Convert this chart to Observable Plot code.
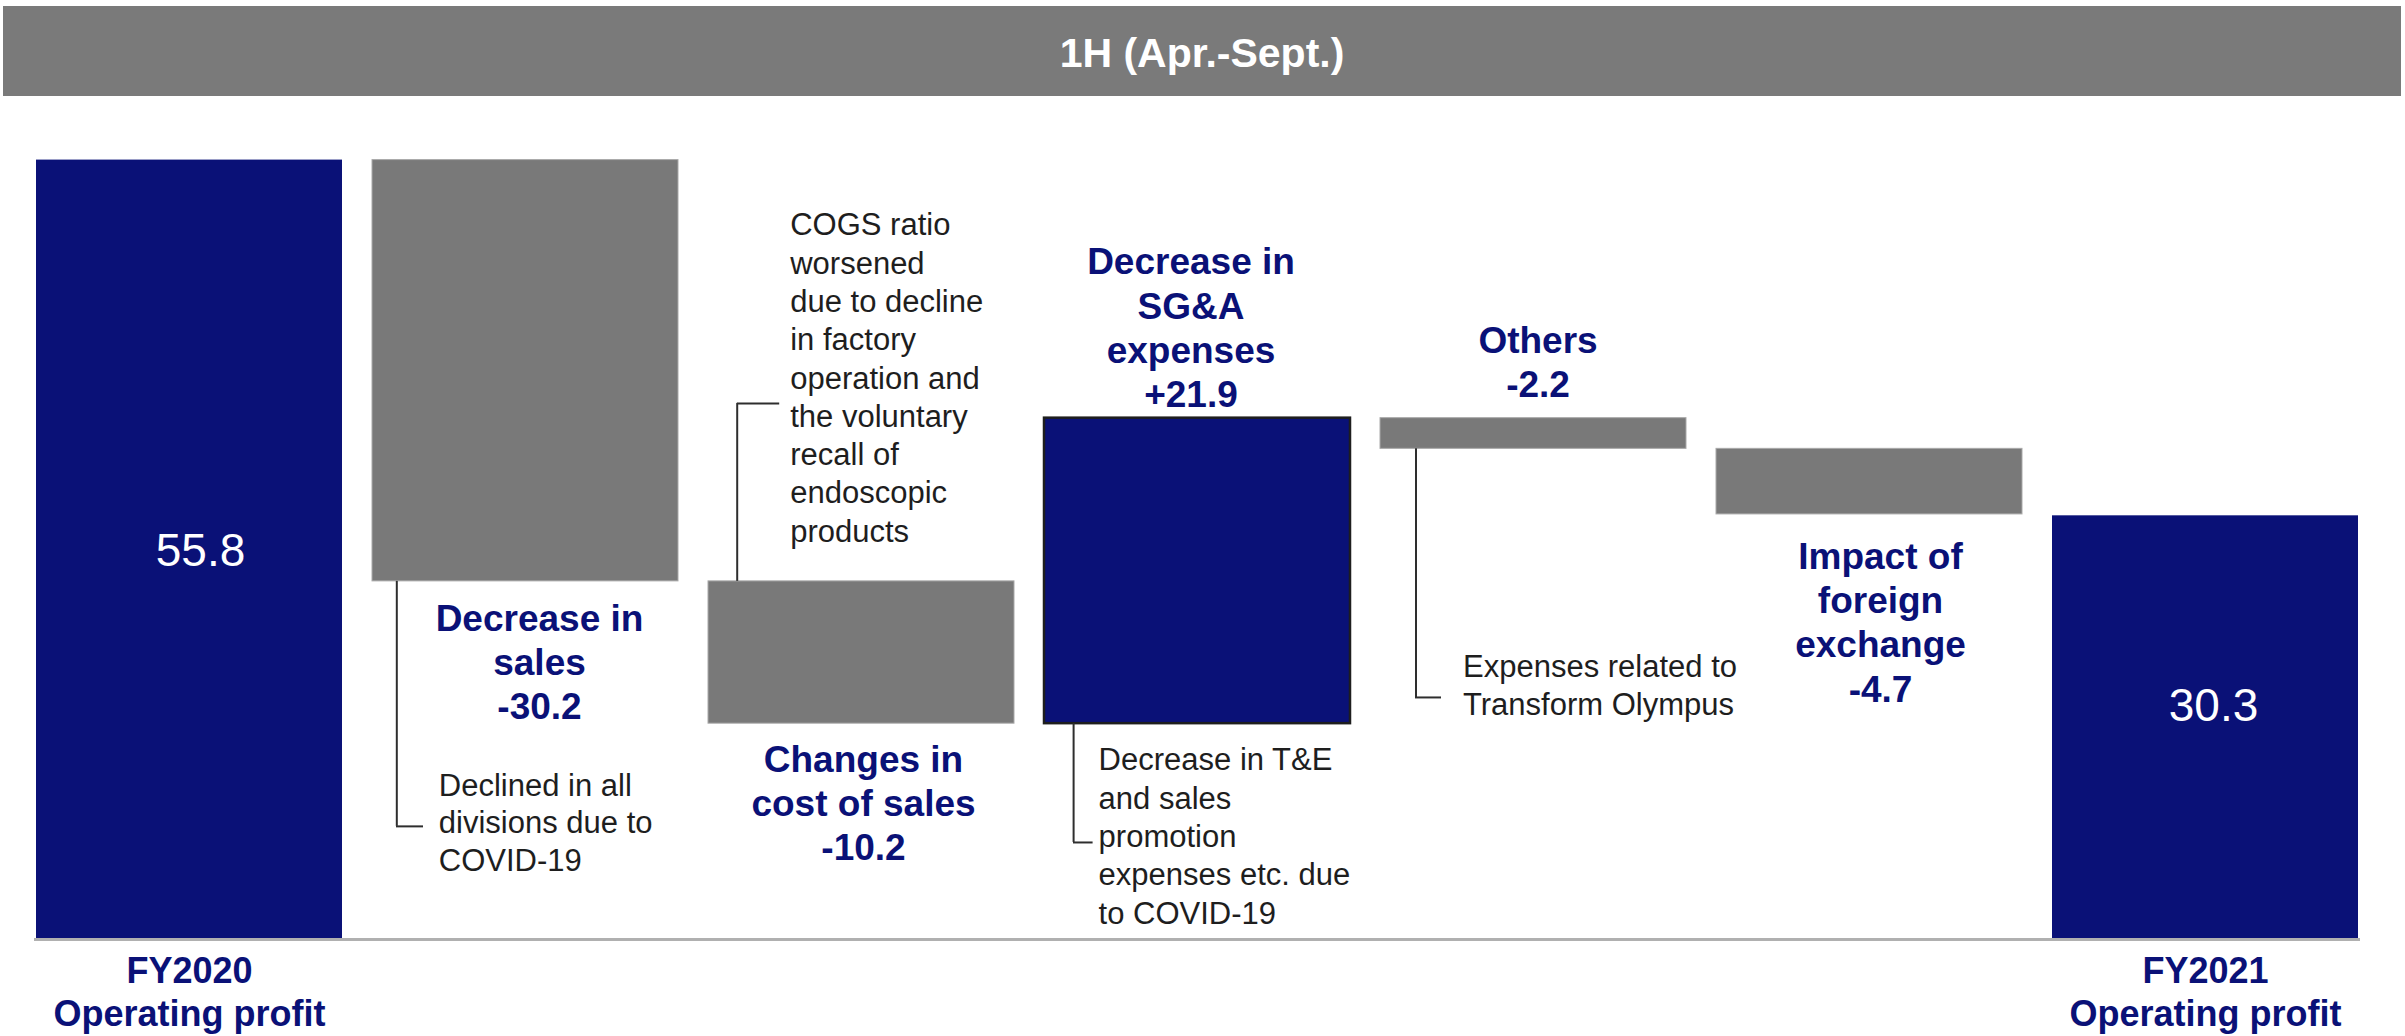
<!DOCTYPE html>
<html>
<head>
<meta charset="utf-8">
<script src="https://cdn.jsdelivr.net/npm/d3@7"></script>
<script src="https://cdn.jsdelivr.net/npm/@observablehq/plot@0.6"></script>
<style>
  html, body { margin: 0; padding: 0; background: #ffffff; width: 2405px; height: 1036px; overflow: hidden;
    font-family: "Liberation Sans", Arial, Helvetica, sans-serif; }
  #title { margin: 6px 4px 0 3px; height: 90px; background: #7a7a7a; color: #ffffff; font-weight: bold;
    font-size: 41px; line-height: 95px; text-align: center; overflow: hidden; }
  #chart svg { display: block; }
</style>
</head>
<body>
<div id="title">1H (Apr.-Sept.)</div>
<div id="chart"></div>
<script>
// ---- data ----
const categories = ["FY2020", "Sales", "CostOfSales", "SGA", "Others", "FX", "FY2021"];
const values = [55.8, -30.2, -10.2, 21.9, -2.2, -4.7, 30.3];
const kinds = ["total", "delta", "delta", "delta", "delta", "delta", "total"];
const stepLabels = ["", "Decrease in\nsales", "Changes in\ncost of sales", "Decrease in\nSG&A\nexpenses", "Others", "Impact of\nforeign\nexchange", ""];
const axisLabels = ["FY2020\nOperating profit", "", "", "", "", "", "FY2021\nOperating profit"];
const notes = [
  "",
  "Declined in all\ndivisions due to\nCOVID-19",
  "COGS ratio\nworsened\ndue to decline\nin factory\noperation and\nthe voluntary\nrecall of\nendoscopic\nproducts",
  "Decrease in T&E\nand sales\npromotion\nexpenses etc. due\nto COVID-19",
  "Expenses related to\nTransform Olympus",
  "",
  ""
];

// ---- waterfall table ----
let run = 0;
const rows = categories.map((c, i) => {
  const v = values[i];
  let y1, y2;
  if (kinds[i] === "total") { y1 = 0; y2 = v; }
  else { y1 = run; y2 = run + v; }
  run = y2;
  return {cat: c, value: v, kind: kinds[i], y1, y2, lo: Math.min(y1, y2), hi: Math.max(y1, y2),
          label: stepLabels[i], note: notes[i]};
});
const axisMap = new Map(categories.map((c, i) => [c, axisLabels[i]]));
const fmt = v => (v > 0 ? "+" : "") + v.toFixed(1);
const byCat = c => rows.filter(r => r.cat === c);

const NAVY = "#0a1177", GRAY = "#797979", NOTE = "#1e1e1e", LINE = "#2e2e2e";

const labelOpts = {x: "cat", text: d => d.label + "\n" + fmt(d.value), fill: NAVY, fontSize: 37, fontWeight: "bold", lineHeight: 1.2};
const noteOpts = {x: "cat", text: "note", fill: NOTE, fontSize: 31, textAnchor: "start"};
const lineOpts = {stroke: LINE, strokeWidth: 2};

const chart = Plot.plot({
  width: 2405,
  height: 940,
  marginTop: 5,
  marginBottom: 98,
  marginLeft: 4,
  marginRight: 15,
  style: {fontFamily: "'Liberation Sans', Arial, Helvetica, sans-serif", background: "#ffffff", overflow: "visible"},
  x: {type: "band", domain: categories, padding: 0.088, label: null},
  y: {domain: [0, 60], axis: null, label: null},
  marks: [
    // bars
    Plot.barY(rows.filter(d => d.kind === "total"), {x: "cat", y1: "y1", y2: "y2", fill: NAVY}),
    Plot.barY(rows.filter(d => d.kind === "delta" && d.value < 0), {x: "cat", y1: "y1", y2: "y2", fill: GRAY, stroke: "#a9a9a9", strokeWidth: 1}),
    Plot.barY(rows.filter(d => d.kind === "delta" && d.value > 0), {x: "cat", y1: "y1", y2: "y2", fill: NAVY, stroke: "#1e1e1e", strokeWidth: 2.5}),
    // baseline
    Plot.ruleY([0], {stroke: "#b0b0b0", strokeWidth: 3, insetLeft: 30, insetRight: 30, dy: 1}),
    // x axis labels (first and last)
    Plot.axisX({tickSize: 0, tickPadding: 14, tickFormat: d => axisMap.get(d), fontSize: 36, fontWeight: "bold",
                fill: NAVY, lineHeight: 1.2, label: null}),
    // totals values
    Plot.text(byCat("FY2020"), {x: "cat", y: d => d.value / 2, text: d => d.value.toFixed(1), fill: "#ffffff", fontSize: 46, dx: 11, dy: 1.5}),
    Plot.text(byCat("FY2021"), {x: "cat", y: d => d.value / 2, text: d => d.value.toFixed(1), fill: "#ffffff", fontSize: 46, dx: 8, dy: -21}),
    // step labels
    Plot.text(byCat("Sales"), {...labelOpts, y: "lo", lineAnchor: "top", dx: 14, dy: 17.6}),
    Plot.text(byCat("CostOfSales"), {...labelOpts, y: "lo", lineAnchor: "top", dx: 2, dy: 16.3}),
    Plot.text(byCat("SGA"), {...labelOpts, y: "hi", lineAnchor: "bottom", dx: -6.5, dy: -10.7}),
    Plot.text(byCat("Others"), {...labelOpts, y: "hi", lineAnchor: "bottom", dx: 4.5, dy: -20.7}),
    Plot.text(byCat("FX"), {...labelOpts, y: "lo", lineAnchor: "top", dx: 11, dy: 22.6}),
    // annotation connectors
    Plot.ruleX(byCat("Sales"), {x: "cat", y1: "lo", y2: "lo", dx: -128.7, insetBottom: -245, ...lineOpts}),
    Plot.ruleY(byCat("Sales"), {x1: "cat", x2: "cat", y: "lo", dy: 245, insetLeft: 24, insetRight: 255, ...lineOpts}),
    Plot.ruleX(byCat("CostOfSales"), {x: "cat", y1: "hi", y2: "hi", dx: -124.3, insetTop: -178, ...lineOpts}),
    Plot.ruleY(byCat("CostOfSales"), {x1: "cat", x2: "cat", y: "hi", dy: -178, insetLeft: 29, insetRight: 234.8, ...lineOpts}),
    Plot.ruleX(byCat("SGA"), {x: "cat", y1: "lo", y2: "lo", dx: -123.9, insetBottom: -118.8, ...lineOpts}),
    Plot.ruleY(byCat("SGA"), {x1: "cat", x2: "cat", y: "lo", dy: 118.8, insetLeft: 29, insetRight: 257.4, ...lineOpts}),
    Plot.ruleX(byCat("Others"), {x: "cat", y1: "lo", y2: "lo", dx: -117.5, insetBottom: -248.6, ...lineOpts}),
    Plot.ruleY(byCat("Others"), {x1: "cat", x2: "cat", y: "lo", dy: 248.6, insetLeft: 35, insetRight: 245, ...lineOpts}),
    // annotation notes
    Plot.text(byCat("Sales"), {...noteOpts, y: "lo", lineAnchor: "top", lineHeight: 1.21, dx: -86.7, dy: 187.5}),
    Plot.text(byCat("CostOfSales"), {...noteOpts, y: "hi", lineAnchor: "top", lineHeight: 1.235, dx: -71.3, dy: -373.1}),
    Plot.text(byCat("SGA"), {...noteOpts, y: "lo", lineAnchor: "top", lineHeight: 1.235, dx: -98.9, dy: 19.6}),
    Plot.text(byCat("Others"), {...noteOpts, y: "lo", lineAnchor: "top", lineHeight: 1.2, dx: -70.5, dy: 202.2})
  ]
});
document.getElementById("chart").appendChild(chart);
</script>
</body>
</html>
